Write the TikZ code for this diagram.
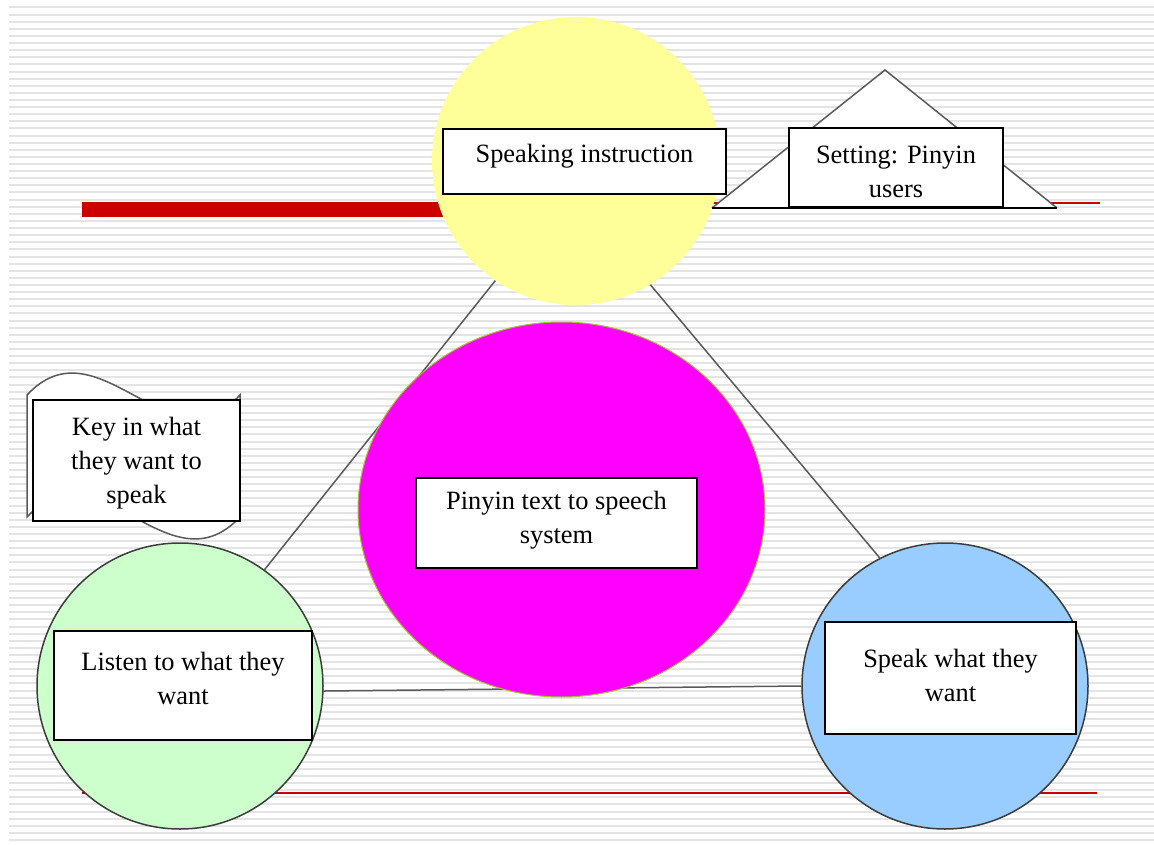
\documentclass[tikz,border=0pt]{standalone}
\usepackage{fontspec}
\setmainfont{Liberation Serif}
\usetikzlibrary{shapes.geometric}
\definecolor{stripegray}{RGB}{228,228,228}
\definecolor{redbar}{RGB}{204,0,0}
\definecolor{yellowfill}{RGB}{255,255,153}
\definecolor{greenfill}{RGB}{204,255,204}
\definecolor{bluefill}{RGB}{153,204,255}
\definecolor{magentafill}{RGB}{255,0,255}
\definecolor{magentaedge}{RGB}{160,200,40}
\definecolor{edgegray}{RGB}{90,90,90}
\definecolor{circedge}{RGB}{60,60,60}
\pgfdeclarelayer{bglayer}
\pgfdeclarelayer{midlayer}
\pgfsetlayers{bglayer,midlayer,main}
\tikzset{
  stripe/.style={draw=stripegray, line width=2pt},
  textbox/.style={draw=black, line width=2pt, fill=white, inner sep=0pt},
  boxtext/.style={inner sep=0pt, align=center, font=\fontsize{26.4}{34}\selectfont},
  connector/.style={draw=edgegray, line width=1.5pt},
  shapeline/.style={draw=edgegray, line width=1.5pt, fill=white},
  bigcircle/.style={circle, inner sep=0pt, draw=circedge, line width=1.5pt},
}
\begin{document}
\begin{tikzpicture}[x=1pt,y=-1pt]
\begin{pgfonlayer}{bglayer}
\useasboundingbox[fill=white] (0,0) rectangle (1154,845);
\foreach \i in {0,...,117}{
  \draw[stripe] (9,{7.5+\i*7.115}) -- (1154,{7.5+\i*7.115});
}
\draw[redbar, line width=2pt] (82,203.5) -- (1100,203.5);
\fill[redbar] (82,203) rectangle (450,217);
\draw[redbar, line width=2pt] (82,793) -- (1097,793);
\end{pgfonlayer}
% wave shape with its box
\draw[shapeline] (27,395) .. controls (98,319) and (169,471) .. (240,395)
  -- (240,517) .. controls (169,593) and (98,441) .. (27,517) -- cycle;
\node[textbox, minimum width=207pt, minimum height=121pt] (keybox) at (136.5,460.5) {};
\node[boxtext] (keytext) at (136.5,463) {Key in what\\they want to\\speak};
% yellow circle
\node[circle, inner sep=0pt, minimum size=288pt, fill=yellowfill] (yellow) at (576,161) {};
% triangle
\coordinate (tapex) at (885,70);
\coordinate (tleft) at (712,208);
\coordinate (tright) at (1057,208);
\draw[shapeline] (tleft) -- (tapex) -- (tright);
\draw[draw=black, line width=1.5pt] (tleft) -- (tright);
\node[textbox, minimum width=214pt, minimum height=79pt] (setbox) at (896,167.5) {};
\node[boxtext] (settext) at (896,171.5) {Setting: Pinyin\\users};
\node[textbox, minimum width=283pt, minimum height=65pt] (speakbox) at (584.5,161.5) {};
\node[boxtext] (speaktext) at (584.5,156) {Speaking instruction};
% magenta ellipse
\node[ellipse, inner sep=0pt, minimum width=407pt, minimum height=375pt, fill=magentafill, draw=magentaedge, line width=1pt] (magenta) at (561.5,509.5) {};
\node[textbox, minimum width=281pt, minimum height=90pt] (pinbox) at (556.5,523) {};
\node[boxtext] (pintext) at (556.5,520) {Pinyin text to speech\\system};
% green and blue circles
\node[bigcircle, minimum size=286pt, fill=greenfill] (green) at (180,686) {};
\node[textbox, minimum width=258pt, minimum height=109pt] (listenbox) at (183,685.5) {};
\node[boxtext] (listentext) at (183,678) {Listen to what they\\want};
\node[bigcircle, minimum size=286pt, fill=bluefill] (blue) at (945,686) {};
\node[textbox, minimum width=251pt, minimum height=112pt] (spkbox) at (950.5,678) {};
\node[boxtext] (spktext) at (950.5,675) {Speak what they\\want};
% connectors behind the circles
\begin{pgfonlayer}{midlayer}
\draw[connector] (yellow.236.6) -- (green.54.7);
\draw[connector] (yellow.301.6) -- (blue.117.3);
\draw[connector] (green.-2.4) -- (blue.180.3);
\end{pgfonlayer}
\end{tikzpicture}
\end{document}
